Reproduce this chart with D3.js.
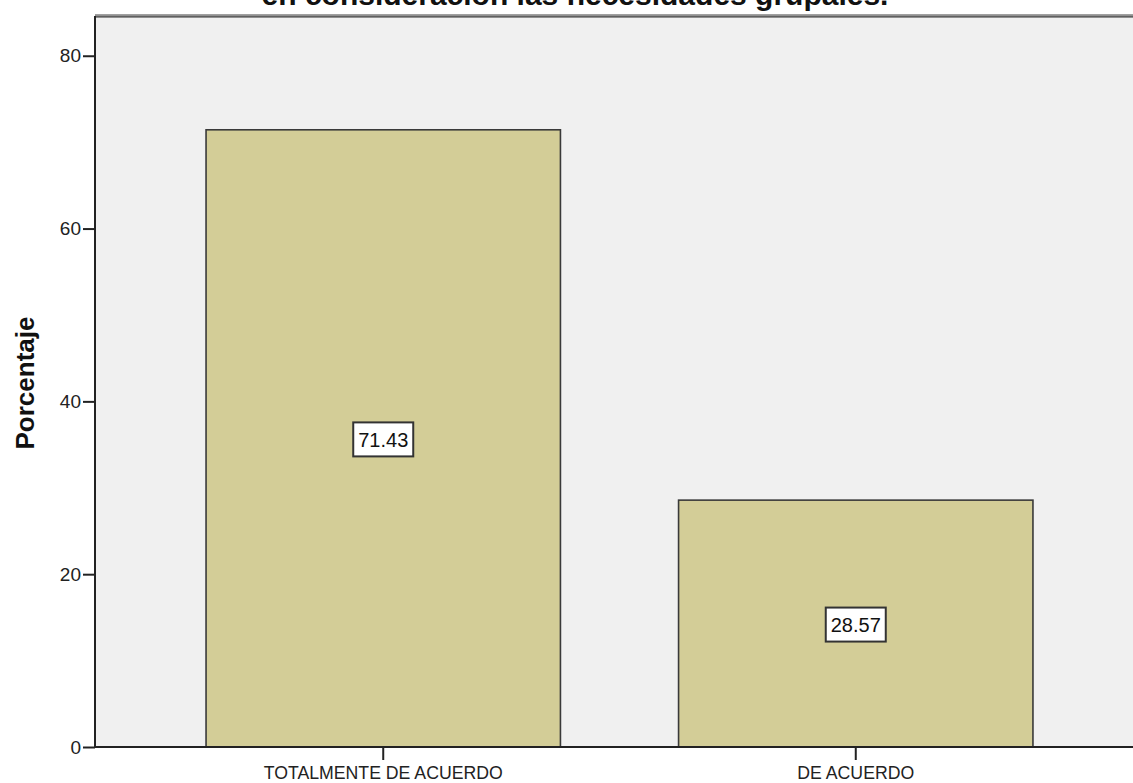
<!DOCTYPE html>
<html>
<head>
<meta charset="utf-8">
<script src="https://cdn.jsdelivr.net/npm/d3@7"></script>
<style>
  body { margin: 0; background: #fff; overflow: hidden; }
  text { font-family: "Liberation Sans", Arial, sans-serif; }
</style>
</head>
<body>
<script>
const width = 1133;
const height = 783;

// data
const categories = ["TOTALMENTE DE ACUERDO", "DE ACUERDO"];
const values = [71.43, 28.57];
const yTicks = [0, 20, 40, 60, 80];
const chartTitle = "en consideración las necesidades grupales.";
const yTitle = "Porcentaje";

const plotLeft = 95;
const plotRight = 1144;
const plotTop = 16;
const plotBottom = 747;

var svg = d3.select("body")
    .append("svg")
    .attr("width", width)
    .attr("height", height);

let x = d3.scaleBand()
    .domain(categories)
    .range([plotLeft, plotRight])
    .paddingInner(0.25)
    .paddingOuter(0.235);

let y = d3.scaleLinear()
    .domain([0, 84.6])
    .range([plotBottom, plotTop]);

// plot background
svg.append("rect")
    .attr("x", plotLeft)
    .attr("y", plotTop)
    .attr("width", plotRight - plotLeft)
    .attr("height", plotBottom - plotTop)
    .attr("fill", "#f0f0f0");

// top frame line (greyish double)
svg.append("line")
    .attr("x1", plotLeft).attr("x2", plotRight)
    .attr("y1", plotTop).attr("y2", plotTop)
    .attr("stroke", "#a0a0a0")
    .attr("stroke-width", 4);
svg.append("line")
    .attr("x1", plotLeft).attr("x2", plotRight)
    .attr("y1", plotTop + 0.5).attr("y2", plotTop + 0.5)
    .attr("stroke", "#606060")
    .attr("stroke-width", 1.5);

// bars
svg.selectAll(".bar")
    .data(values)
    .enter()
    .append("rect")
    .attr("class", "bar")
    .attr("x", (d, i) => x(categories[i]))
    .attr("y", d => y(d))
    .attr("width", x.bandwidth())
    .attr("height", d => y(0) - y(d))
    .attr("fill", "#d3cd97")
    .attr("stroke", "#3a3a3a")
    .attr("stroke-width", 1.6);

// value labels in the middle of each bar
let labels = svg.selectAll(".lbl")
    .data(values)
    .enter()
    .append("g")
    .attr("class", "lbl")
    .attr("transform", (d, i) => `translate(${x(categories[i]) + x.bandwidth() / 2},${y(d / 2) + 1})`);

labels.append("rect")
    .attr("x", -30)
    .attr("y", -17)
    .attr("width", 60)
    .attr("height", 34)
    .attr("fill", "#fff")
    .attr("stroke", "#333")
    .attr("stroke-width", 2);

labels.append("text")
    .attr("text-anchor", "middle")
    .attr("dy", "0.36em")
    .attr("font-size", 20)
    .attr("fill", "#111")
    .text(d => d.toFixed(2));

// y axis
let yAxis = svg.append("g")
    .attr("transform", `translate(${plotLeft},0)`)
    .call(d3.axisLeft(y).tickValues(yTicks).tickSize(12).tickPadding(2).tickSizeOuter(0));
yAxis.select(".domain")
    .attr("d", `M0,${plotTop}V${plotBottom}`)
    .attr("stroke", "#222")
    .attr("stroke-width", 2);
yAxis.selectAll(".tick line").attr("stroke", "#222").attr("stroke-width", 2);
yAxis.selectAll(".tick text")
    .attr("font-size", 19)
    .attr("fill", "#222")
    .style("font-family", "'Liberation Sans', Arial, sans-serif");

// x axis
let xAxis = svg.append("g")
    .attr("transform", `translate(0,${plotBottom})`)
    .call(d3.axisBottom(x).tickSize(13).tickPadding(6).tickSizeOuter(0));
xAxis.select(".domain")
    .attr("d", `M${plotLeft},0H${plotRight}`)
    .attr("stroke", "#222")
    .attr("stroke-width", 2);
xAxis.selectAll(".tick line").attr("stroke", "#222").attr("stroke-width", 2);
xAxis.selectAll(".tick text")
    .attr("font-size", 17.7)
    .attr("fill", "#222")
    .style("font-family", "'Liberation Sans', Arial, sans-serif");

// y axis title
svg.append("text")
    .attr("transform", "translate(34,383) rotate(-90)")
    .attr("text-anchor", "middle")
    .attr("font-size", 26)
    .attr("font-weight", "bold")
    .attr("fill", "#111")
    .text(yTitle);

// chart title, mostly cut off at the top (as in the source image)
svg.append("text")
    .attr("x", 575)
    .attr("y", 5)
    .attr("text-anchor", "middle")
    .attr("font-size", 30)
    .attr("font-weight", "bold")
    .attr("fill", "#111")
    .text(chartTitle);
</script>
</body>
</html>
